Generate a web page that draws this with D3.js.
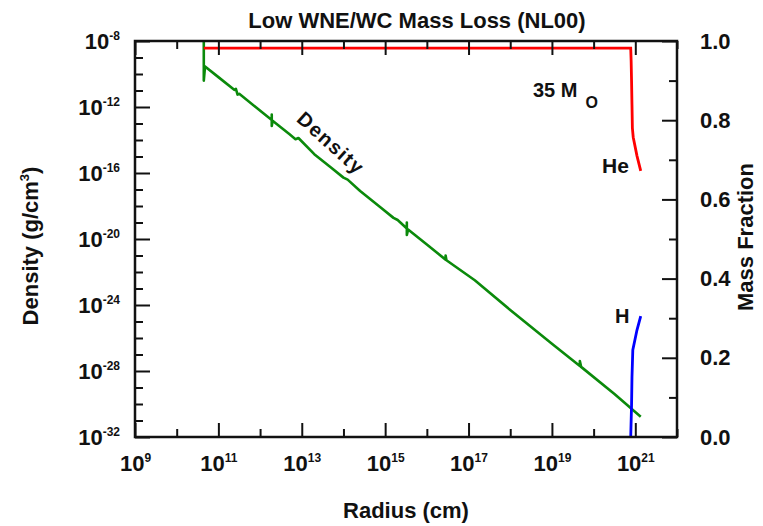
<!doctype html>
<html>
<head>
  <meta charset="utf-8">
  <script src="https://cdnjs.cloudflare.com/ajax/libs/d3/7.8.5/d3.min.js"></script>
  <style>
    body { margin: 0; background: #fff; }
    svg text { font-family: "Liberation Sans", Arial, Helvetica, sans-serif; font-weight: bold; fill: #111; }
  </style>
</head>
<body>
  <svg id="chart" width="763" height="526"></svg>
  <script>
    // radius as log10(cm), density as log10(g/cm^3)
    var densityLogR   = [10.65, 10.65, 10.68, 11.0, 11.38, 11.42, 11.46, 11.5, 11.9, 12.28, 12.28, 12.28, 12.3, 12.7, 12.85, 12.92, 13.3, 13.7, 14.0, 14.1, 14.4, 14.9, 15.2, 15.3, 15.52, 15.52, 15.52, 15.55, 16.0, 16.45, 16.45, 16.47, 17.15, 18.0, 19.0, 19.67, 19.67, 19.7, 20.5, 21.13];
    var densityLogRho = [-8.0, -10.4, -9.54, -10.19, -10.96, -10.9, -11.25, -11.2, -12.02, -12.79, -12.45, -13.15, -12.83, -13.64, -13.95, -13.88, -14.86, -15.67, -16.28, -16.4, -17.09, -18.11, -18.72, -18.85, -19.36, -19.0, -19.75, -19.43, -20.34, -21.25, -21.0, -21.29, -22.5, -24.3, -26.35, -27.7, -27.4, -27.75, -29.4, -30.77];

    var heLogR = [10.65, 20.89, 20.9, 20.91, 20.92, 20.93, 20.95, 21.04, 21.13];
    var heFrac = [0.982, 0.982, 0.95, 0.9, 0.84, 0.78, 0.757, 0.71, 0.672];

    var hLogR = [20.89, 20.91, 20.92, 20.94, 20.99, 21.04, 21.13];
    var hFrac = [0.0, 0.08, 0.15, 0.22, 0.245, 0.27, 0.305];

    // ticks
    var xMajorExp = [9, 11, 13, 15, 17, 19, 21];
    var xMinorExp = [10, 12, 14, 16, 18, 20, 22];
    var yMajorExp = [-8, -12, -16, -20, -24, -28, -32];
    var yMinorExp = [-9, -10, -11, -13, -14, -15, -17, -18, -19, -21, -22, -23, -25, -26, -27, -29, -30, -31];
    var fracMajor = [0.0, 0.2, 0.4, 0.6, 0.8, 1.0];
    var fracMinor = [0.1, 0.3, 0.5, 0.7, 0.9];

    var pLeft = 135, pRight = 677, pTop = 41, pBottom = 437;
    var svg = d3.select("#chart");

    var x = d3.scaleLog().domain([1e9, 1e22]).range([pLeft, pRight]);
    var y = d3.scaleLog().domain([1e-32, 1e-8]).range([pBottom, pTop]);
    var yr = d3.scaleLinear().domain([0, 1]).range([pBottom, pTop]);

    var p10 = function (e) { return Math.pow(10, e); };

    svg.append("defs").append("clipPath").attr("id", "clip")
      .append("rect").attr("x", pLeft).attr("y", pTop).attr("width", pRight - pLeft).attr("height", pBottom - pTop);

    // curves
    var density = densityLogR.map(function (r, i) { return [p10(r), p10(densityLogRho[i])]; });
    var he = heLogR.map(function (r, i) { return [p10(r), heFrac[i]]; });
    var h = hLogR.map(function (r, i) { return [p10(r), hFrac[i]]; });

    var lineD = d3.line().x(function (d) { return x(d[0]); }).y(function (d) { return y(d[1]); });
    var lineF = d3.line().x(function (d) { return x(d[0]); }).y(function (d) { return yr(d[1]); });

    var g = svg.append("g").attr("clip-path", "url(#clip)");
    g.append("path").datum(density).attr("d", lineD)
      .attr("fill", "none").attr("stroke", "#0b8a0b").attr("stroke-width", 2.6).attr("stroke-linejoin", "round");
    g.append("path").datum(he).attr("d", lineF)
      .attr("fill", "none").attr("stroke", "#ff0000").attr("stroke-width", 2.8);
    g.append("path").datum(h).attr("d", lineF)
      .attr("fill", "none").attr("stroke", "#0000ff").attr("stroke-width", 2.8);

    // axes
    function sup(sel, base) {
      sel.selectAll(".tick text").each(function (d) {
        var t = d3.select(this);
        var e = Math.round(Math.log10(d));
        t.text(null);
        t.append("tspan").text(base);
        t.append("tspan").attr("font-size", 12).attr("dy", -9).text(e);
      });
    }

    var axB = svg.append("g").attr("transform", "translate(0," + pBottom + ")");
    axB.call(d3.axisBottom(x).tickValues(xMinorExp.map(p10)).tickSize(-8).tickFormat(""));
    var axBM = svg.append("g").attr("transform", "translate(0," + pBottom + ")");
    axBM.call(d3.axisBottom(x).tickValues(xMajorExp.map(p10)).tickSize(-14).tickPadding(18));
    sup(axBM, "10");

    var axT = svg.append("g").attr("transform", "translate(0," + pTop + ")");
    axT.call(d3.axisTop(x).tickValues(xMinorExp.map(p10)).tickSize(-8).tickFormat(""));
    var axTM = svg.append("g").attr("transform", "translate(0," + pTop + ")");
    axTM.call(d3.axisTop(x).tickValues(xMajorExp.map(p10)).tickSize(-14).tickFormat(""));

    var axL = svg.append("g").attr("transform", "translate(" + pLeft + ",0)");
    axL.call(d3.axisLeft(y).tickValues(yMinorExp.map(p10)).tickSize(-8).tickFormat(""));
    var axLM = svg.append("g").attr("transform", "translate(" + pLeft + ",0)");
    axLM.call(d3.axisLeft(y).tickValues(yMajorExp.map(p10)).tickSize(-15).tickPadding(15));
    sup(axLM, "10");

    var axR = svg.append("g").attr("transform", "translate(" + pRight + ",0)");
    axR.call(d3.axisRight(yr).tickValues(fracMinor).tickSize(-8).tickFormat(""));
    var axRM = svg.append("g").attr("transform", "translate(" + pRight + ",0)");
    axRM.call(d3.axisRight(yr).tickValues(fracMajor).tickSize(-15).tickPadding(23).tickFormat(d3.format(".1f")));

    svg.selectAll(".domain").remove();
    svg.selectAll(".tick line").attr("stroke", "#111").attr("stroke-width", 2);
    svg.selectAll(".tick text").attr("font-size", 22).attr("fill", "#111")
      .style("font-family", "'Liberation Sans', Arial, sans-serif").style("font-weight", "bold");

    svg.append("rect").attr("x", pLeft).attr("y", pTop).attr("width", pRight - pLeft).attr("height", pBottom - pTop)
      .attr("fill", "none").attr("stroke", "#111").attr("stroke-width", 2.5);

    // titles
    svg.append("text").attr("x", 417).attr("y", 28).attr("text-anchor", "middle").attr("font-size", 22)
      .text("Low WNE/WC Mass Loss (NL00)");
    svg.append("text").attr("x", 406).attr("y", 518).attr("text-anchor", "middle").attr("font-size", 22)
      .text("Radius (cm)");

    var yl = svg.append("text").attr("transform", "translate(38,246) rotate(-90)")
      .attr("text-anchor", "middle").attr("font-size", 22);
    yl.append("tspan").text("Density (g/cm");
    yl.append("tspan").attr("font-size", 13).attr("dy", -9).text("3");
    yl.append("tspan").attr("dy", 9).text(")");

    svg.append("text").attr("transform", "translate(753,237) rotate(-90)")
      .attr("text-anchor", "middle").attr("font-size", 22).text("Mass Fraction");

    // annotations
    var m = svg.append("text").attr("x", 533).attr("y", 97).attr("font-size", 20);
    m.append("tspan").text("35 M");
    m.append("tspan").attr("font-size", 16).attr("dx", 8).attr("dy", 11).text("O");

    svg.append("text").attr("x", 602).attr("y", 173).attr("font-size", 21).text("He");
    svg.append("text").attr("x", 615).attr("y", 323).attr("font-size", 20).text("H");

    svg.append("text").attr("transform", "translate(331,143) rotate(42)")
      .attr("text-anchor", "middle").attr("dominant-baseline", "central")
      .attr("font-size", 20).attr("letter-spacing", 1.5).text("Density");
  </script>
</body>
</html>
